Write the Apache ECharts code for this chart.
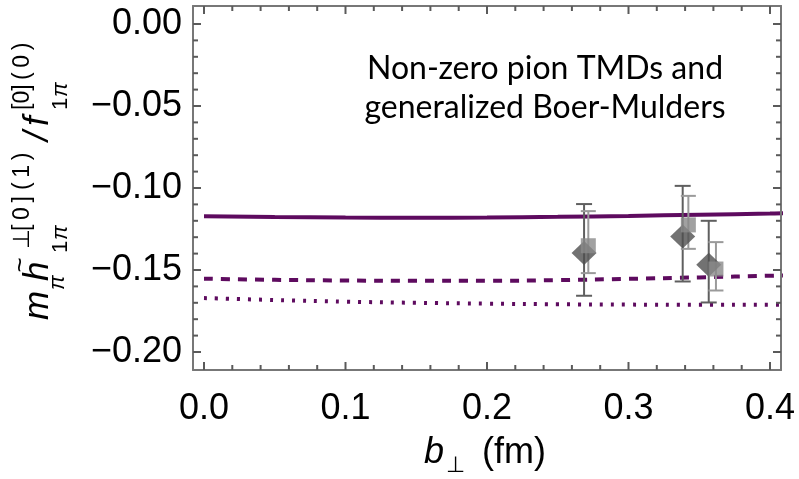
<!DOCTYPE html>
<html>
<head>
<meta charset="utf-8">
<script src="https://cdn.jsdelivr.net/npm/echarts@6/dist/echarts.min.js"></script>
<style>html,body{margin:0;padding:0;background:#fff;}#c{width:799px;height:479px;}</style>
</head>
<body>
<div id="c"></div>
<script>
// ---- data ----
const bValues   = [0, 0.05, 0.1, 0.15, 0.2, 0.25, 0.3, 0.35, 0.4, 0.41];
const solidVals = [-0.1172, -0.1177, -0.1180, -0.1181, -0.1180, -0.1176, -0.1170, -0.1163, -0.1156, -0.1154];
const dashVals  = [-0.1553, -0.1560, -0.1564, -0.1566, -0.1566, -0.1562, -0.1554, -0.1545, -0.1535, -0.1533];
const dotVals   = [-0.1671, -0.1683, -0.1693, -0.1700, -0.1705, -0.1709, -0.1711, -0.1712, -0.1712, -0.1712];

const diamondX  = [0.2686, 0.3383, 0.3567];
const diamondY  = [-0.1397, -0.1296, -0.1468];
const diamondLo = [-0.1657, -0.1570, -0.1698];
const diamondHi = [-0.1098, -0.0987, -0.1200];

const squareX   = [0.2716, 0.3423, 0.3618];
const squareY   = [-0.1352, -0.1225, -0.1494];
const squareLo  = [-0.1519, -0.1371, -0.1625];
const squareHi  = [-0.1141, -0.1048, -0.1330];

const xTickValues  = [0, 0.1, 0.2, 0.3, 0.4];
const xTickLabels  = ['0.0', '0.1', '0.2', '0.3', '0.4'];
const xMinorValues = [0.02, 0.04, 0.06, 0.08, 0.12, 0.14, 0.16, 0.18, 0.22, 0.24, 0.26, 0.28, 0.32, 0.34, 0.36, 0.38];
const yTickValues  = [0, -0.05, -0.1, -0.15, -0.2];
const yTickLabels  = ['0.00', '\u22120.05', '\u22120.10', '\u22120.15', '\u22120.20'];
const yMinorValues = [-0.01, -0.02, -0.03, -0.04, -0.06, -0.07, -0.08, -0.09, -0.11, -0.12, -0.13, -0.14,
                      -0.16, -0.17, -0.18, -0.19];

const annotationLines = ['Non-zero pion TMDs and', 'generalized Boer-Mulders'];

// ---- layout ----
const W = 799, H = 479;
const frame = {l: 193, r: 781, t: 6, b: 370};
const tickBox = {l: 204, r: 770, t: 24, b: 352};   // pixel box of x 0..0.4, y -0.2..0
const xTickMin = 0, xTickMax = 0.4, yTickMin = -0.2, yTickMax = 0;
const pxX = (tickBox.r - tickBox.l) / (xTickMax - xTickMin);
const pxY = (tickBox.b - tickBox.t) / (yTickMax - yTickMin);
const xMin = xTickMin - (tickBox.l - frame.l) / pxX;
const xMax = xTickMax + (frame.r - tickBox.r) / pxX;
const yMax = yTickMax + (tickBox.t - frame.t) / pxY;
const yMin = yTickMin - (frame.b - tickBox.b) / pxY;

const frameColor = '#777777';
const tickColor = '#5a5a5a';
const purple = '#5e0b5f';
const labelFont = '"Liberation Sans", Arial, sans-serif';

function zip(a, b) { return a.map((v, i) => [v, b[i]]); }

function labelFor(vals, labels, v) {
  let best = 0;
  vals.forEach((t, i) => { if (Math.abs(t - v) < Math.abs(vals[best] - v)) best = i; });
  return labels[best];
}

function makeAxis(pos, isX, withLabels) {
  const vals = isX ? xTickValues : yTickValues;
  const labels = isX ? xTickLabels : yTickLabels;
  return {
    gridIndex: 0, type: 'value', position: pos,
    min: isX ? xMin : yMin, max: isX ? xMax : yMax,
    axisLine: {show: true, onZero: false, lineStyle: {color: frameColor, width: 2}},
    axisTick: {show: false},
    axisLabel: {
      show: withLabels, color: '#000', fontFamily: labelFont, fontSize: 36,
      margin: isX ? 21 : 11,
      customValues: vals,
      formatter: function (v) { return labelFor(vals, labels, v); }
    },
    splitLine: {show: false},
    z: 10
  };
}

// inward ticks on the frame: positions come from the axis scale, frame edges from the grid rect
function tickSeries(values, isX, len) {
  return {
    type: 'custom', xAxisIndex: 0, yAxisIndex: 0, z: 12, silent: true,
    data: values.map(v => isX ? [v, -0.1] : [0.2, v]),
    renderItem: function (params, api) {
      const cs = params.coordSys;
      const p = api.coord([api.value(0), api.value(1)]);
      const st = {stroke: tickColor, lineWidth: 2};
      if (isX) {
        const b = cs.y + cs.height, t = cs.y;
        return {type: 'group', children: [
          {type: 'line', shape: {x1: p[0], y1: b, x2: p[0], y2: b - len}, style: st},
          {type: 'line', shape: {x1: p[0], y1: t, x2: p[0], y2: t + len}, style: st}
        ]};
      }
      const l = cs.x, r = cs.x + cs.width;
      return {type: 'group', children: [
        {type: 'line', shape: {x1: l, y1: p[1], x2: l + len, y2: p[1]}, style: st},
        {type: 'line', shape: {x1: r, y1: p[1], x2: r - len, y2: p[1]}, style: st}
      ]};
    }
  };
}

function errorBarSeries(xs, lo, hi, color, capHalf, z) {
  return {
    type: 'custom', xAxisIndex: 0, yAxisIndex: 0, z: z, silent: true,
    data: xs.map((x, i) => [x, lo[i], hi[i]]),
    renderItem: function (params, api) {
      const p0 = api.coord([api.value(0), api.value(1)]);
      const p1 = api.coord([api.value(0), api.value(2)]);
      const st = {stroke: color, lineWidth: 2};
      return {
        type: 'group',
        children: [
          {type: 'line', shape: {x1: p0[0], y1: p0[1], x2: p1[0], y2: p1[1]}, style: st},
          {type: 'line', shape: {x1: p0[0] - capHalf, y1: p0[1], x2: p0[0] + capHalf, y2: p0[1]}, style: st},
          {type: 'line', shape: {x1: p1[0] - capHalf, y1: p1[1], x2: p1[0] + capHalf, y2: p1[1]}, style: st}
        ]
      };
    }
  };
}

// text pieces for the axis titles
function T(text, x, y, size, italic, extra) {
  return {
    type: 'text',
    style: Object.assign({
      text: text, x: x, y: y,
      font: (italic ? 'italic ' : '') + size + 'px ' + labelFont,
      fill: '#000', textAlign: 'left', textVerticalAlign: 'middle', align: 'left', verticalAlign: 'middle'
    }, extra || {})
  };
}
const mainY = -12, subY = 11, supY = -27;
const yTitle = {
  type: 'group', x: 50, y: 320, rotation: Math.PI / 2,
  children: [
    T('m', 0, mainY, 35, true),
    T('\u03c0', 30, subY - 3, 22, true),
    T('h', 39, mainY, 35, true),
    T('~', 55, -29, 26, false, {textAlign: 'center', align: 'center'}),
    T('1', 67, subY, 22, false),
    T('\u03c0', 80, subY, 22, true),
    T('\u22a5', 71, supY, 23, false),
    T('[\u20090\u2009]', 89, supY, 23, false),
    T('(\u20091\u2009)', 130, supY, 23, false),
    T('/', 179, mainY, 35, true),
    T('f', 194, mainY, 35, true),
    T('1', 210, subY, 22, false),
    T('\u03c0', 223, subY, 22, true),
    T('[0]', 210, supY, 23, false),
    T('(\u20090\u2009)', 240, supY, 23, false)
  ]
};
const xTitleCx = (frame.l + frame.r) / 2;
const xTitle = {
  type: 'group', x: xTitleCx, y: 453,
  children: [
    T('b', -63, 0, 36, true),
    T('\u22a5', -41, 13, 22, false),
    T('(fm)', -5, 0, 36, false)
  ]
};
const annotation = {
  type: 'text',
  style: {
    text: annotationLines.join('\n'), x: 545, y: 88,
    font: '32px Lato, "Open Sans", sans-serif', fill: '#000',
    textAlign: 'center', textVerticalAlign: 'middle', align: 'center', verticalAlign: 'middle',
    lineHeight: 39
  }
};

const chart = echarts.init(document.getElementById('c'), null, {renderer: 'canvas'});
chart.setOption({
  backgroundColor: '#fff',
  animation: false,
  grid: [{left: frame.l, right: W - frame.r, top: frame.t, bottom: H - frame.b, containLabel: false}],
  xAxis: [makeAxis('bottom', true, true), makeAxis('top', true, false)],
  yAxis: [makeAxis('left', false, true), makeAxis('right', false, false)],
  series: [
    {type: 'line', xAxisIndex: 0, yAxisIndex: 0, data: zip(bValues, solidVals), smooth: 0.4, showSymbol: false, clip: true,
     lineStyle: {color: purple, width: 4}, z: 2},
    {type: 'line', xAxisIndex: 0, yAxisIndex: 0, data: zip(bValues, dashVals), smooth: 0.4, showSymbol: false, clip: true,
     lineStyle: {color: purple, width: 4, type: [9, 8], cap: 'butt'}, z: 2},
    {type: 'line', xAxisIndex: 0, yAxisIndex: 0, data: zip(bValues, dotVals), smooth: 0.4, showSymbol: false, clip: true,
     lineStyle: {color: purple, width: 4, type: [3, 8], cap: 'butt'}, z: 2},
    errorBarSeries(diamondX, diamondLo, diamondHi, '#5f5f5f', 8, 3),
    errorBarSeries(squareX, squareLo, squareHi, '#9a9a9a', 7.5, 4),
    {type: 'scatter', xAxisIndex: 0, yAxisIndex: 0, data: zip(diamondX, diamondY), symbol: 'diamond', symbolSize: [25, 24],
     itemStyle: {color: '#4f4f4f'}, z: 5},
    {type: 'scatter', xAxisIndex: 0, yAxisIndex: 0, data: zip(squareX, squareY), symbol: 'rect', symbolSize: 15,
     itemStyle: {color: '#898989'}, z: 6},
    tickSeries(xTickValues, true, 8),
    tickSeries(xMinorValues, true, 5),
    tickSeries(yTickValues, false, 8),
    tickSeries(yMinorValues, false, 5)
  ],
  graphic: [yTitle, xTitle, annotation]
});
</script>
</body>
</html>
